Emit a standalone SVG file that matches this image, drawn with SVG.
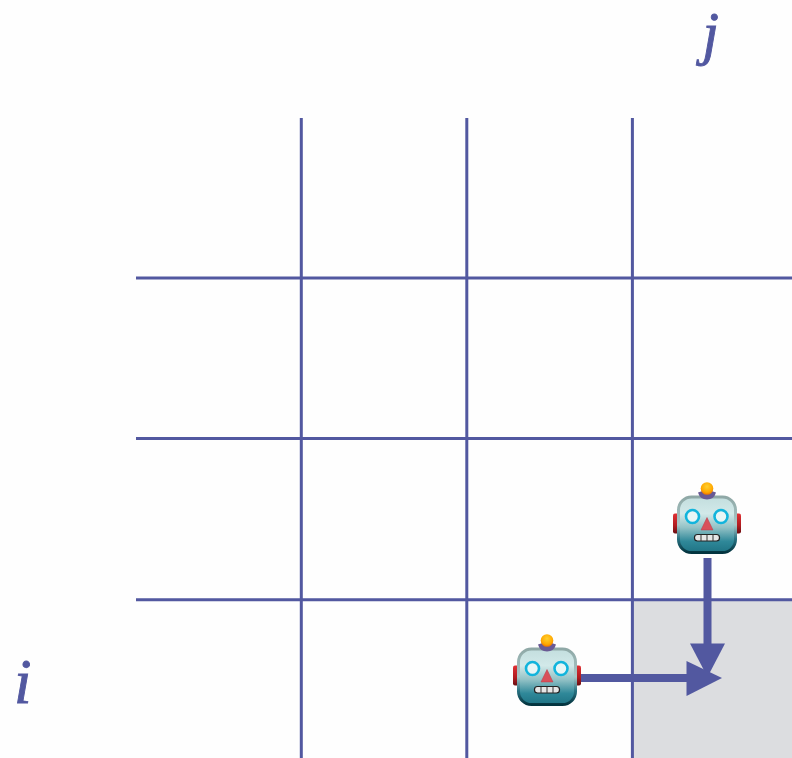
<svg xmlns="http://www.w3.org/2000/svg" width="792" height="758" viewBox="0 0 792 758">
<style>
.grid{stroke:#5258a0;stroke-width:3;fill:none}
.flow{stroke:#5258a0;stroke-width:8;fill:none}
.head{fill:#5258a0}
.lab{font-family:"Liberation Serif",serif;font-style:italic;fill:#5258a0;stroke:#5258a0;stroke-width:0.9}
</style>
<defs>
<linearGradient id="face" x1="0" y1="0" x2="0" y2="1">
<stop offset="0" stop-color="#c3dede"/><stop offset="0.3" stop-color="#d2e9e9"/><stop offset="0.55" stop-color="#93c2c6"/><stop offset="0.8" stop-color="#2f8899"/><stop offset="1" stop-color="#1f7384"/>
</linearGradient>
<linearGradient id="rim" x1="0" y1="0" x2="0" y2="1">
<stop offset="0" stop-color="#8fa8a6"/><stop offset="0.5" stop-color="#a9c8c8"/><stop offset="0.75" stop-color="#2a7484"/><stop offset="1" stop-color="#03343f"/>
</linearGradient>
<linearGradient id="ear" x1="0" y1="0" x2="0" y2="1">
<stop offset="0" stop-color="#e03034"/><stop offset="0.6" stop-color="#b01c20"/><stop offset="1" stop-color="#6a0f12"/>
</linearGradient>
<radialGradient id="bulb" cx="0.5" cy="0.35" r="0.65">
<stop offset="0" stop-color="#ffd030"/><stop offset="0.7" stop-color="#ffa800"/><stop offset="1" stop-color="#f07000"/>
</radialGradient>
<g id="robot">
<rect x="-34" y="25" width="6" height="20" rx="2" fill="url(#ear)"/>
<rect x="28" y="25" width="6" height="20" rx="2" fill="url(#ear)"/>
<rect x="-28.500" y="8.500" width="57" height="55.500" rx="13" fill="url(#face)" stroke="url(#rim)" stroke-width="3"/>
<path d="M-9 4Q0 0 9 4Q7 11 0 11Q-7 11-9 4Z" fill="#6a5a94"/>
<circle cx="0" cy="0" r="6.300" fill="url(#bulb)"/>
<circle cx="-14.500" cy="28" r="6.500" fill="#e8f6f6" stroke="#12b4dc" stroke-width="2.600"/>
<circle cx="14" cy="28" r="6.500" fill="#e8f6f6" stroke="#12b4dc" stroke-width="2.600"/>
<path d="M0 29L6 41.500H-6Z" fill="#d9505a" stroke="#b83a48" stroke-width="0.500"/>
<rect x="-12.500" y="46" width="25" height="6.500" rx="3" fill="#e6e6e6" stroke="#222" stroke-width="1.200"/>
<path d="M-6 46v6.500M0 46v6.500M6 46v6.500" stroke="#333" stroke-width="1"/>
</g>
</defs>
<rect width="792" height="758" fill="#fefefe"/>
<rect id="target-cell" x="632" y="600" width="160" height="158" fill="#dcdde0"/>
<g id="grid-lines">
<path class="grid" d="M301.300 118V758M466.800 118V758M632.400 118V758M136 278H792M136 438.500H792M136 599.800H792"/>
</g>
<g id="connectors">
<path class="flow" d="M707.500 558V645"/>
<path class="head" d="M690 643.500H725L707.500 677Z"/>
<path class="flow" d="M581 678H688"/>
<path class="head" d="M686.500 661L722 678L686.500 696Z"/>
</g>
<g id="robot-top"><use href="#robot" x="707" y="488.500"/></g>
<g id="robot-left"><use href="#robot" x="547" y="640.500"/></g>
<g id="label-j"><text class="lab" x="702.500" y="52.800" font-size="59">j</text></g>
<g id="label-i"><text class="lab" x="14" y="703" font-size="63">i</text></g>
</svg>
